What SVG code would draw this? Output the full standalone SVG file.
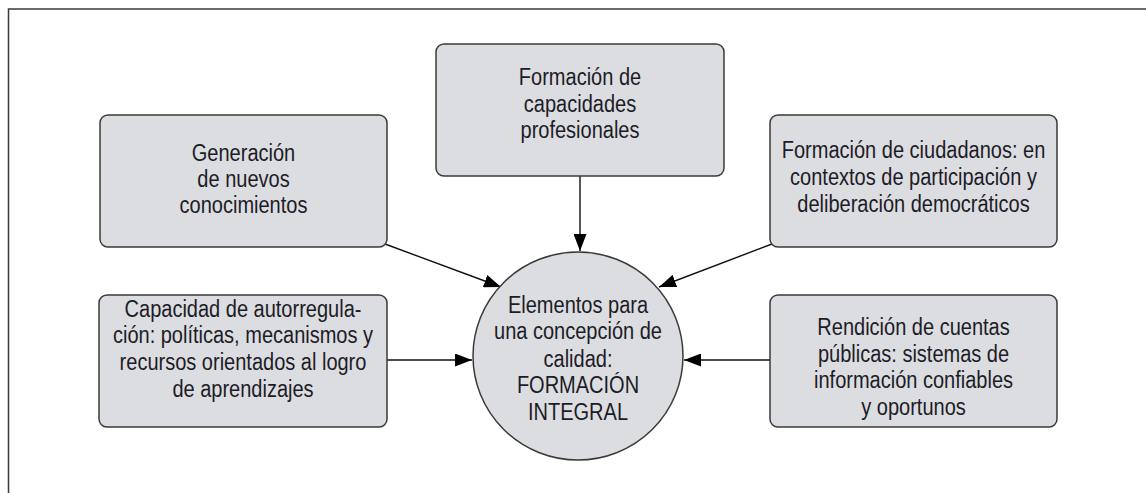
<svg xmlns="http://www.w3.org/2000/svg" width="1146" height="493" viewBox="0 0 1146 493">
<style>
.box{fill:#dcdde0;stroke:#3a3a3a;stroke-width:1.5}
.t{font-family:"Liberation Sans",Arial,sans-serif;font-size:23px;fill:#1c1c28;text-anchor:middle}
.c{stroke:#111;stroke-width:1.4;fill:none;marker-end:url(#ah)}
</style>
<defs>
<marker id="ah" viewBox="0 0 17 13" refX="17" refY="6.5" markerWidth="17" markerHeight="13" markerUnits="userSpaceOnUse" orient="auto">
<path d="M0,0 L17,6.5 L0,13 Z" fill="#000"/>
</marker>
</defs>
<rect x="8.5" y="9" width="1160" height="500" fill="none" stroke="#3a3a3a" stroke-width="1.5"/>
<g id="connectors">
<line class="c" x1="580" y1="176" x2="580" y2="251"/>
<line class="c" x1="385" y1="244" x2="501" y2="287"/>
<line class="c" x1="772" y1="244" x2="659" y2="287"/>
<line class="c" x1="387" y1="360" x2="472" y2="360"/>
<line class="c" x1="770" y1="360" x2="684" y2="360"/>
</g>
<g id="n1">
<rect class="box" x="100" y="115" width="287" height="132" rx="8"/>
<text class="t" transform="translate(243.5 0) scale(0.87 1)"><tspan x="0" y="161">Generación</tspan><tspan x="0" y="187">de nuevos</tspan><tspan x="0" y="213">conocimientos</tspan></text>
</g>
<g id="n2">
<rect class="box" x="436" y="44" width="288" height="132" rx="8"/>
<text class="t" transform="translate(580 0) scale(0.87 1)"><tspan x="0" y="85">Formación de</tspan><tspan x="0" y="112">capacidades</tspan><tspan x="0" y="138">profesionales</tspan></text>
</g>
<g id="n3">
<rect class="box" x="770" y="115" width="287" height="132" rx="8"/>
<text class="t" transform="translate(913.5 0) scale(0.87 1)"><tspan x="0" y="158">Formación de ciudadanos: en</tspan><tspan x="0" y="185">contextos de participación y</tspan><tspan x="0" y="212">deliberación democráticos</tspan></text>
</g>
<g id="n4">
<rect class="box" x="99" y="295" width="288" height="132" rx="8"/>
<text class="t" transform="translate(243 0) scale(0.87 1)"><tspan x="0" y="317">Capacidad de autorregula-</tspan><tspan x="0" y="343">ción: políticas, mecanismos y</tspan><tspan x="0" y="370">recursos orientados al logro</tspan><tspan x="0" y="397">de aprendizajes</tspan></text>
</g>
<g id="n5">
<ellipse class="box" cx="578" cy="356" rx="105" ry="104"/>
<text class="t" transform="translate(578 0) scale(0.87 1)"><tspan x="0" y="313">Elementos para</tspan><tspan x="0" y="339">una concepción de</tspan><tspan x="0" y="367">calidad:</tspan><tspan x="0" y="393">FORMACIÓN</tspan><tspan x="0" y="420">INTEGRAL</tspan></text>
</g>
<g id="n6">
<rect class="box" x="770" y="295" width="287" height="132" rx="8"/>
<text class="t" transform="translate(913.5 0) scale(0.87 1)"><tspan x="0" y="335">Rendición de cuentas</tspan><tspan x="0" y="362">públicas: sistemas de</tspan><tspan x="0" y="388">información confiables</tspan><tspan x="0" y="415">y oportunos</tspan></text>
</g>
</svg>
